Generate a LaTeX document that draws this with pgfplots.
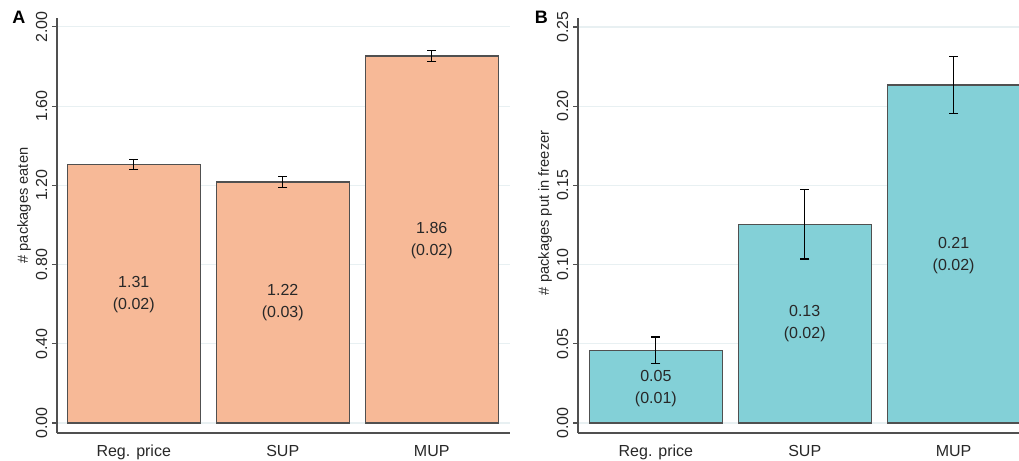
\documentclass[border=0pt]{standalone}
\usepackage{pgfplots}
\pgfplotsset{compat=1.18}
\usepackage{fontspec}
\setmainfont{Liberation Sans}
\definecolor{barA}{RGB}{247,185,151}
\definecolor{barB}{RGB}{131,208,215}
\definecolor{edge}{RGB}{80,80,80}
\definecolor{gridc}{RGB}{232,240,242}
\definecolor{txt}{RGB}{40,40,40}
\pgfplotsset{
  panel/.style={
    scale only axis,
    axis x line=bottom, axis y line=left,
    axis line style={-, draw=edge, line width=0.8pt},
    xtick={0,1,2}, xticklabels={Reg. price, SUP, MUP},
    x tick style={draw=none},
    y tick style={draw=edge, line width=0.8pt},
    tick align=outside, major tick length=3.75pt,
    ymajorgrids, grid style={gridc, line width=0.8pt},
    yticklabel style={rotate=90, anchor=south, font=\fontsize{12}{14}\selectfont, text=txt},
    xticklabel style={font=\fontsize{12}{14}\selectfont, text=txt, yshift=-2pt},
    ylabel style={font=\fontsize{11}{13}\selectfont, text=txt, yshift=-3pt},
    /pgf/number format/.cd, fixed, fixed zerofill, precision=2, assume math mode=true,
  },
  bars/.style={ybar, bar shift=0pt, bar width=0.893, draw=edge, line width=0.8pt, fill=#1,
    error bars/.cd, y dir=both, y explicit,
    error bar style={black, line width=0.9pt},
    error mark options={rotate=90, black, mark size=3.4pt, line width=0.9pt}},
  lbls/.style={draw=none, mark=none, point meta=explicit symbolic, nodes near coords,
    nodes near coords style={align=center, anchor=center, font=\fontsize{12}{16.5}\selectfont, text=txt}},
}
\begin{document}
\begin{tikzpicture}
\path[use as bounding box] (0,0) rectangle (764.25pt,-345pt);
\begin{axis}[panel, at={(42.75pt,-324.75pt)}, anchor=south west,
  width=339.75pt, height=311.25pt,
  xmin=-0.515, xmax=2.525, ymin=-0.0505, ymax=2.045,
  ytick={0,0.4,0.8,1.2,1.6,2.0},
  ylabel={\# packages eaten}, ylabel style={xshift=15pt}]
\addplot[bars=barA] coordinates {
  (0,1.305) +- (0,0.025)
  (1,1.217) +- (0,0.028)
  (2,1.853) +- (0,0.028)
};
\addplot[lbls] coordinates {
  (0,0.65) [{1.31\\(0.02)}]
  (1,0.61) [{1.22\\(0.03)}]
  (2,0.92) [{1.86\\(0.02)}]
};
\end{axis}
\begin{axis}[panel, at={(433.5pt,-324.75pt)}, anchor=south west,
  width=337.5pt, height=311.25pt,
  xmin=-0.523, xmax=2.5, ymin=-0.0063, ymax=0.2557,
  ytick={0,0.05,0.1,0.15,0.2,0.25},
  ylabel={\# packages put in freezer}, ylabel style={xshift=9.5pt}]
\addplot[bars=barB] coordinates {
  (0,0.046) +- (0,0.0083)
  (1,0.1256) +- (0,0.022)
  (2,0.2134) +- (0,0.018)
};
\addplot[lbls] coordinates {
  (0,0.022) [{0.05\\(0.01)}]
  (1,0.063) [{0.13\\(0.02)}]
  (2,0.106) [{0.21\\(0.02)}]
};
\end{axis}
\node[anchor=north west, font=\bfseries\fontsize{13.5}{16}\selectfont, inner sep=0pt] at (9pt,-8pt) {A};
\node[anchor=north west, font=\bfseries\fontsize{13.5}{16}\selectfont, inner sep=0pt] at (401pt,-8pt) {B};
\end{tikzpicture}
\end{document}
